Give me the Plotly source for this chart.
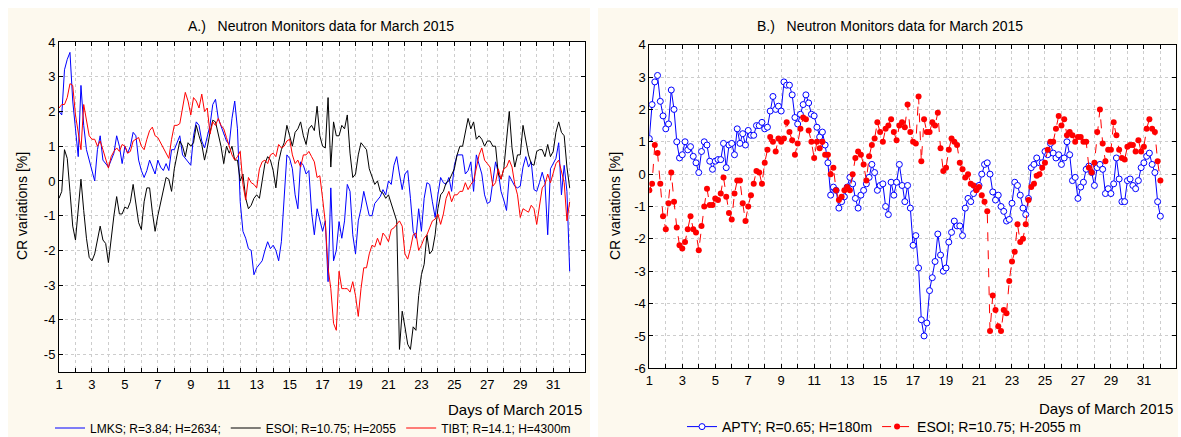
import numpy as np
import plotly.graph_objects as go

# ---- data: 4-hourly cosmic-ray variations [%], March 2015 (6 values per day, day 1 .. day 32) ----
step_hours = 4

lmks = [
    2.0, 1.9, 3.2, 3.5, 3.7, 2.3,
    1.5, 0.7, 2.75, 1.6, 0.9, 0.6,
    0.3, 0.0, 0.9, 1.3, 0.6, 0.5,
    0.4, 0.6, 0.8, 1.3, 1.0, 0.5,
    1.0, 0.8, 1.0, 1.4, 1.3, 0.6,
    0.3, 0.1, 0.3, 0.6, 0.4, 0.2,
    0.6, 0.4, 0.3, 0.5, 0.3, 0.9,
    0.9, 1.1, 1.3, 0.75, 0.65, 0.55,
    0.45, 1.3, 1.7, 1.6, 1.15, 0.95,
    1.3, 1.6, 2.2, 2.35, 1.8, 1.6,
    1.4, 1.15, 1.05, 1.8, 2.3, 1.5,
    -0.6, -1.45, -1.65, -1.95, -2.0, -2.7,
    -2.5, -2.4, -2.3, -2.0, -1.75, -1.95,
    -1.85, -2.0, -2.3, -1.75, -0.3, 0.75,
    0.65, 0.35, -0.4, -0.8, 0.55, 0.45,
    0.2, 0.3, -0.9, -1.55, -0.8, -1.15,
    -1.45, -1.15, -2.9, -0.2, -2.3, -2.0,
    -1.17, -1.65, -1.15, -0.1, -0.3, -1.55,
    -2.1, -1.15, -0.8, -0.3, -0.65, -1.0,
    -1.0, -0.65, -0.55, -0.45, -0.25, -0.4,
    0.0, -0.1, 0.45, 0.7, 0.2, -0.25,
    0.2, 0.3, -0.5, -1.45, -1.65, -0.8,
    -1.45, -0.5, -0.05, -0.1, -0.6, -1.05,
    -0.4, 0.1, -0.05, -0.1, 0.1, -0.3,
    0.45, 0.75, 0.75, 0.75, 0.2, 0.3,
    0.55, -0.3, 0.75, 0.5, 0.2, -0.4,
    -0.65, -0.6, 0.0, 0.55, 0.25, -0.3,
    -0.55, -0.85, 0.15, 0.0, -0.15, -0.2,
    -0.15, 0.4, 0.7, 0.4, 0.55, -0.25,
    -0.3, -0.05, 0.25, -0.05, -1.55, 0.35,
    0.5, 0.65, 1.1, -0.4, 0.45, -0.3,
    -2.6,
]

esoi = [
    -0.5, -0.3, 0.9, 0.65, -0.3, -1.3,
    -1.7, -0.9, 0.05, -0.85, -1.65, -2.2,
    -2.3, -2.1, -1.7, -1.3, -1.7, -1.8,
    -2.35, -1.6, -1.0, -0.45, -0.95, -0.95,
    -0.75, -0.8, -0.6, -0.1, -0.7, -1.2,
    -1.4, -0.6, -0.2, -0.2, -0.9, -1.45,
    -1.0, -0.65, -0.3, 0.1, 0.05, -0.3,
    0.35, 0.75, 1.15, 1.0, 0.7, 1.1,
    1.0, 1.1, 1.6, 1.3, 1.05, 0.6,
    0.95, 1.4, 1.75, 1.7, 1.35, 1.0,
    0.5, 1.0, 0.8, 1.0, 0.6, 0.6,
    0.0, 0.2, -0.5, -0.8, -0.7, -0.5,
    -0.4, -0.5, 0.0, 0.5, 0.7, 0.6,
    0.3, -0.2, 0.55, 0.9, 1.1, 1.6,
    1.3, 1.0, 1.4, 1.5, 1.7, 1.3,
    1.05, 1.5, 1.6, 1.45, 2.15, 1.3,
    1.0, 0.95, 2.4, 0.4, 1.7, 1.3,
    1.3, 1.6, 1.5, 1.9, 0.8, 0.1,
    0.2, 0.75, 1.1, 1.0, 0.9, 0.35,
    0.15, -0.1, 0.0, -0.3, -0.35, -0.5,
    -0.4, -0.65, -0.85, -1.15, -4.85, -3.75,
    -4.2, -4.7, -4.85, -4.2, -4.3, -3.3,
    -2.7, -2.4, -1.55, -2.1, -2.0, -1.55,
    -0.8, -0.4, -0.3, -0.05, 0.0, 0.2,
    0.35, 0.75, 1.0, 1.0, 1.4, 1.8,
    1.5, 1.7, 1.2, 1.3, 1.2, 1.0,
    1.15, 1.15, 1.0, 1.0, 0.2, 0.05,
    0.35, 1.3, 2.0, 0.95, 0.4, 0.75,
    0.75, 1.6, 1.2, 0.75, 0.5, 0.45,
    0.85, 0.9, 0.9, 0.7, 1.05, 0.7,
    0.85, 1.4, 1.7, 1.4, 1.3, 0.4,
    -0.2,
]

tibt = [
    2.1, 2.2, 2.2, 2.4, 2.8, 2.75,
    1.9, 1.4, 0.9, 2.2, 1.7, 1.3,
    1.2, 1.2, 1.0, 1.15, 0.9, 0.65,
    0.37, 0.7, 0.85, 0.95, 0.85, 1.05,
    1.0, 0.8, 0.85, 1.15, 1.2, 1.25,
    1.0, 0.9, 1.2, 1.45, 1.55, 1.3,
    1.25, 1.1, 0.95, 0.8, 0.65, 1.2,
    1.6, 1.6, 1.65, 2.1, 2.55, 2.3,
    1.9, 2.4, 2.3, 2.1, 2.5, 2.0,
    2.1, 1.35, 1.7, 1.6, 1.8, 1.6,
    1.5, 1.25, 1.0, 0.75, 0.6, 0.7,
    0.85, -0.1, -0.55, 0.1, -0.05, -0.1,
    -0.2, 0.35, 0.55, 0.6, 0.5, 0.75,
    0.8, 0.7, 1.05, 0.95, 1.0, 1.15,
    1.2, 0.75, 0.5, 0.6, 0.4, 0.75,
    0.75, 0.85, 0.7, 0.55, 0.1, 0.15,
    -0.5, -1.2, -2.5, -3.1, -4.1, -4.3,
    -2.6, -3.1, -3.1, -3.1, -3.2, -2.9,
    -3.3, -3.9, -3.1, -2.5, -2.5, -2.1,
    -1.85, -1.9, -1.65, -1.85, -1.5, -1.6,
    -1.75, -1.4, -1.35, -1.25, -1.15, -1.3,
    -2.1, -2.25, -1.95, -1.55, -1.5, -2.0,
    -1.85, -1.65, -1.55, -1.35, -1.15, -1.1,
    -0.95, -1.25, -0.95, -0.5, -0.3, -0.6,
    -0.4, -0.4, -0.3, -0.3, -0.05, -0.25,
    -0.1, 0.0, 0.4, 0.75, 0.95, 0.6,
    0.5, 0.4, -0.15, -0.05, 0.35, 0.05,
    0.35, 0.4, 0.6, 0.4, -0.1, -0.4,
    -1.05, -0.8, -0.85, -0.9, -0.7, -0.8,
    -1.25, -0.7, -0.2, -0.1, 0.2, -0.05,
    0.25, 0.5, 0.6, 0.3, -0.05, -1.15,
    -0.6,
]

apty = [
    1.1, 2.15, 2.85, 3.05, 2.25, 1.8,
    1.4, 1.55, 2.6, 2.0, 1.0, 0.5,
    0.6, 1.0, 0.75, 0.85, 0.55, 0.35,
    0.05, 0.7, 1.0, 0.9, 0.4, 0.15,
    0.4, 0.45, 0.45, 0.95, 0.2, 0.9,
    0.95, 0.6, 1.4, 0.95, 1.25, 0.9,
    1.35, 1.2, 1.2, 1.5, 1.5, 1.6,
    1.4, 1.45, 1.95, 2.4, 2.0, 2.1,
    1.95, 2.85, 2.75, 2.75, 2.45, 1.75,
    1.55, 1.85, 2.15, 2.45, 2.2, 1.85,
    1.8, 1.45, 1.15, 1.3, 0.9, 0.35,
    -0.65, -0.4, -0.5, -1.05, -0.85, -0.7,
    -0.4, -0.1, -0.3, -0.75, -1.05, -0.65,
    -0.5, -0.3, -0.1, 0.3, 0.05, -0.5,
    -0.35, -0.3, -1.0, -1.25, -0.25, -0.65,
    -0.25, 0.3, -0.35, -0.85, -0.35, -1.05,
    -2.2, -1.9, -2.9, -4.5, -5.0, -4.6,
    -3.6, -3.2, -2.7, -1.85, -2.5, -3.0,
    -2.9, -2.1, -1.8, -1.45, -1.6, -1.6,
    -1.9, -1.05, -0.75, -0.85, -0.6, -0.45,
    -0.35, 0.0, 0.3, 0.35, 0.0, -0.55,
    -0.8, -0.65, -1.0, -1.15, -1.45, -1.4,
    -0.9, -0.25, -0.35, -0.65, -1.05, -1.25,
    -0.75, 0.2, 0.3, 0.5, 0.35, 0.35,
    0.7, 0.6, 0.95, 0.65, 0.5, 0.6,
    0.3, 0.5, 1.0, 0.6, -0.2, -0.1,
    -0.75, -0.4, -0.25, 0.15, 0.25, 0.05,
    -0.35, 0.2, 0.3, 0.15, -0.6, -0.45,
    -0.6, -0.3, 0.5, -0.15, -0.85, -0.85,
    -0.2, -0.15, -0.35, -0.45, -0.2, 0.2,
    0.35, 0.55, 0.65, 0.3, 0.05, -0.85,
    -1.3,
]

x_tick_days = list(range(1, 33))
x_tick_text = [str(d) if d % 2 == 1 else "" for d in x_tick_days]
yA_ticks = list(range(-5, 5))
yB_ticks = list(range(-6, 5))

names_A = ["LMKS; R=3.84; H=2634;", "ESOI; R=10.75; H=2055", "TIBT; R=14.1; H=4300m"]
names_B = ["APTY; R=0.65; H=180m", "ESOI; R=10.75; H-2055 m"]
title_A = "A.)\u00a0\u00a0\u00a0Neutron Monitors data for March 2015"
title_B = "B.)\u00a0\u00a0\u00a0Neutron Monitors data for March 2015"
x_title = "Days of March 2015"
y_title = "CR variations [%]"

# ---- figure ----
hours = np.arange(len(lmks)) * step_hours
days = 1 + hours / 24.0

W, H = 1181, 437
FONT = "Liberation Sans, Arial, sans-serif"
BLUE, RED, BLACK = "#0000ff", "#ff0000", "#000000"
CREAM = "#fdf9ee"

def px(x):
    return x / W

def py(y):
    return 1 - y / H

fig = go.Figure()
fig.add_trace(go.Scatter(x=days, y=lmks, mode="lines", name=names_A[0],
                         line=dict(color=BLUE, width=1), xaxis="x", yaxis="y", legend="legend"))
fig.add_trace(go.Scatter(x=days, y=esoi, mode="lines", name=names_A[1],
                         line=dict(color=BLACK, width=1), xaxis="x", yaxis="y", legend="legend"))
fig.add_trace(go.Scatter(x=days, y=tibt, mode="lines", name=names_A[2],
                         line=dict(color=RED, width=1), xaxis="x", yaxis="y", legend="legend"))
fig.add_trace(go.Scatter(x=days, y=apty, mode="lines+markers", name=names_B[0],
                         line=dict(color=BLUE, width=1),
                         marker=dict(symbol="circle", size=6, color="white", line=dict(color=BLUE, width=1)),
                         xaxis="x2", yaxis="y2", legend="legend2"))
fig.add_trace(go.Scatter(x=days, y=esoi, mode="lines+markers", name=names_B[1],
                         line=dict(color=RED, width=1, dash="dash"),
                         marker=dict(symbol="circle", size=6, color=RED, line=dict(color=RED, width=0)),
                         xaxis="x2", yaxis="y2", legend="legend2"))

axis_common = dict(showline=True, linecolor="black", linewidth=1, mirror="ticks",
                   ticks="inside", ticklen=4, tickcolor="black",
                   showgrid=True, gridcolor="#cdcdcd", griddash="dot", gridwidth=1,
                   zeroline=False, tickfont=dict(family=FONT, size=13, color="black"))

white_strip = dict(type="rect", xref="paper", yref="paper", fillcolor="white",
                   line=dict(width=0), layer="below")

x_range = [1, 32.93]
fig.update_layout(
    width=W, height=H,
    margin=dict(l=0, r=0, t=0, b=0, autoexpand=False),
    paper_bgcolor=CREAM, plot_bgcolor="white",
    font=dict(family=FONT, color="black"),
    xaxis=dict(domain=[px(59), px(585)], range=x_range, anchor="y",
               tickvals=x_tick_days, ticktext=x_tick_text, **axis_common),
    yaxis=dict(domain=[py(372), py(42)], range=[-5.5, 4], anchor="x",
               tickvals=yA_ticks, ticktext=[str(v) for v in yA_ticks], **axis_common),
    xaxis2=dict(domain=[px(649.3), px(1175.7)], range=x_range, anchor="y2",
                tickvals=x_tick_days, ticktext=x_tick_text, **axis_common),
    yaxis2=dict(domain=[py(368.3), py(44.7)], range=[-6, 4], anchor="x2",
                tickvals=yB_ticks, ticktext=[str(v) for v in yB_ticks], **axis_common),
    legend=dict(orientation="h", x=px(50), xanchor="left", y=py(428), yanchor="middle",
                bgcolor="rgba(0,0,0,0)", font=dict(family=FONT, size=12, color="black"),
                itemwidth=30),
    legend2=dict(orientation="h", x=px(682), xanchor="left", y=py(427), yanchor="middle",
                 bgcolor="rgba(0,0,0,0)", font=dict(family=FONT, size=14, color="black"),
                 itemwidth=30),
    shapes=[
        dict(x0=0, x1=px(8), y0=0, y1=1, **white_strip),
        dict(x0=0, x1=1, y0=py(8), y1=1, **white_strip),
        dict(x0=px(590), x1=px(598), y0=0, y1=1, **white_strip),
        dict(x0=px(1178), x1=1, y0=0, y1=1, **white_strip),
    ],
    annotations=[
        dict(text=title_A, x=px(321), y=py(26), xref="paper", yref="paper", showarrow=False,
             xanchor="center", yanchor="middle", font=dict(family=FONT, size=14)),
        dict(text=title_B, x=px(890), y=py(26), xref="paper", yref="paper", showarrow=False,
             xanchor="center", yanchor="middle", font=dict(family=FONT, size=14)),
        dict(text=x_title, x=px(584), y=py(409), xref="paper", yref="paper", showarrow=False,
             xanchor="right", yanchor="middle", font=dict(family=FONT, size=15)),
        dict(text=x_title, x=px(1175), y=py(408), xref="paper", yref="paper", showarrow=False,
             xanchor="right", yanchor="middle", font=dict(family=FONT, size=15)),
        dict(text=y_title, x=px(22), y=py(206), xref="paper", yref="paper", showarrow=False,
             textangle=-90, xanchor="center", yanchor="middle", font=dict(family=FONT, size=14)),
        dict(text=y_title, x=px(615), y=py(206), xref="paper", yref="paper", showarrow=False,
             textangle=-90, xanchor="center", yanchor="middle", font=dict(family=FONT, size=14)),
    ],
)

fig.write_html("out.html")
